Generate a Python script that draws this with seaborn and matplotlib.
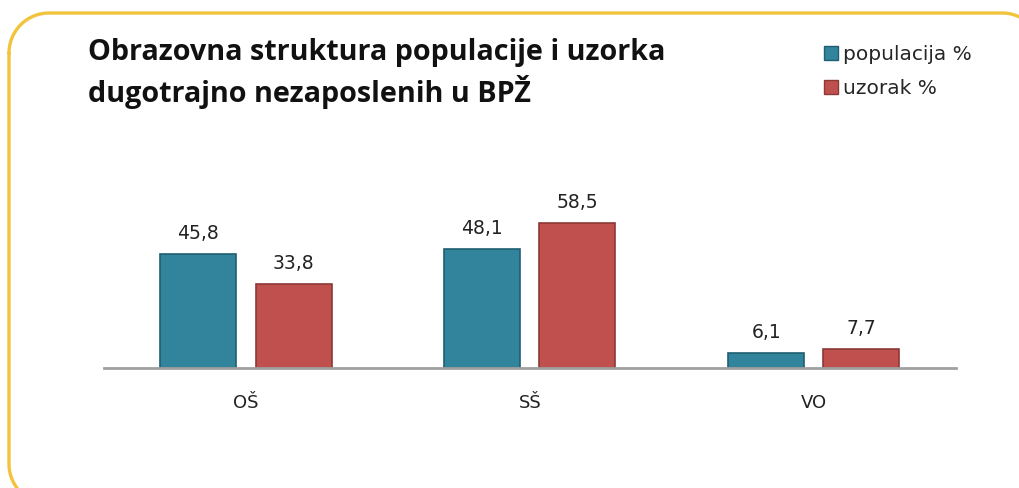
import numpy as np
import pandas as pd
import matplotlib
matplotlib.use("Agg")
import matplotlib.pyplot as plt
import seaborn as sns

# data
categories = ["OŠ", "SŠ", "VO"]
populacija = [45.8, 48.1, 6.1]
uzorak = [33.8, 58.5, 7.7]
series_names = ["populacija %", "uzorak %"]

TEAL = "#31849B"
RED = "#C0504D"
EDGES = ["#1F5F70", "#8C3836"]

df = pd.DataFrame({
    "kat": categories * 2,
    "val": populacija + uzorak,
    "serija": [series_names[0]] * 3 + [series_names[1]] * 3,
})

sns.set_style("white")
plt.rcParams['font.family'] = ['DejaVu Sans']

fig = plt.figure(figsize=(10.2, 4.88), dpi=100)


def rounded_frame(x0, y0, x1, y1, r, n=30):
    # polyline of a rounded rectangle in pixel units (y grows downwards)
    pts = []
    corners = [((x0 + r, y0 + r), 180, 270), ((x1 - r, y0 + r), 270, 360),
               ((x1 - r, y1 - r), 0, 90), ((x0 + r, y1 - r), 90, 180)]
    for (cx, cy), a0, a1 in corners:
        t = np.radians(np.linspace(a0, a1, n))
        pts.extend(zip(cx + r * np.cos(t), cy + r * np.sin(t)))
    pts.append(pts[0])
    return np.array(pts)


bg = fig.add_axes([0, 0, 1, 1], zorder=-1)
bg.set_xlim(0, 1020)
bg.set_ylim(488, 0)
bg.axis("off")
fr = rounded_frame(9, 13, 1042, 504, 40)
bg.plot(fr[:, 0], fr[:, 1], color="#F2C33C", lw=2.4, solid_capstyle="round")

ax = fig.add_axes([0.102, 0.246, 0.835, 0.3557])
ax.patch.set_alpha(0)

sns.barplot(data=df, x="kat", y="val", hue="serija", palette=[TEAL, RED],
            saturation=1, width=0.67, gap=0.2, ax=ax, legend=True)

for cont, ec in zip(ax.containers, EDGES):
    for bar in cont:
        bar.set_edgecolor(ec)
        bar.set_linewidth(1.2)
    ax.bar_label(cont, labels=[f"{v:.1f}".replace(".", ",") for v in cont.datavalues],
                 padding=8, fontsize=13.5, color="#222222")

ax.set_xlim(-0.5, 2.5)
ax.set_ylim(0, 70)
ax.set_xlabel("")
ax.set_ylabel("")
ax.set_yticks([])
ax.tick_params(axis="x", length=0, labelsize=13, pad=19, colors="#222222")
for s in ["top", "left", "right"]:
    ax.spines[s].set_visible(False)
ax.spines["bottom"].set_color("#A0A0A0")
ax.spines["bottom"].set_linewidth(2)

handles, labels = ax.get_legend_handles_labels()
ax.get_legend().remove()
leg = fig.legend(handles, labels, loc="upper left", bbox_to_anchor=(0.8, 0.925),
                 frameon=False, fontsize=14.5, handlelength=0.7, handleheight=0.7,
                 handletextpad=0.25, labelspacing=0.75, borderaxespad=0)
for h, ec in zip(leg.legend_handles, EDGES):
    h.set_edgecolor(ec)

fig.text(88 / 1020, 1 - 38 / 488,
         "Obrazovna struktura populacije i uzorka\ndugotrajno nezaposlenih u BPŽ",
         ha="left", va="top", fontsize=20.7, fontweight="bold", family="Open Sans",
         linespacing=1.3, color="#111111")

fig.savefig("out.png", dpi=100)
